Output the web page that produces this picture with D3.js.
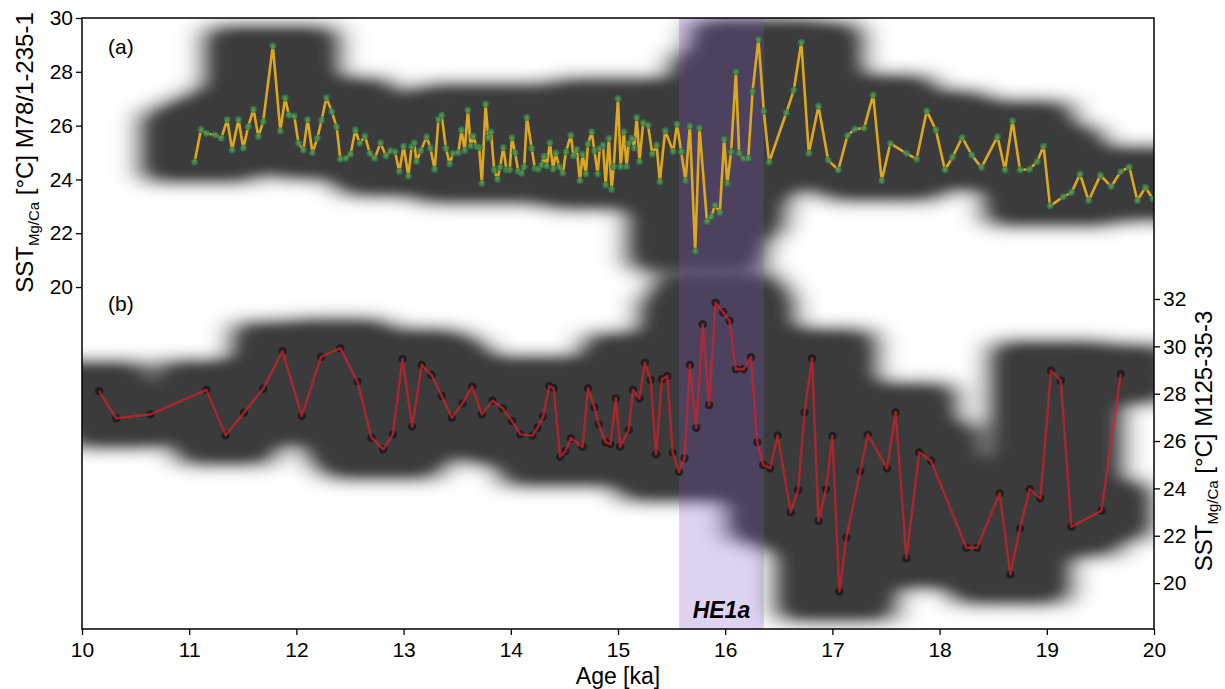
<!DOCTYPE html>
<html>
<head>
<meta charset="utf-8">
<script src="https://cdn.jsdelivr.net/npm/d3@7"></script>
<style>
  body { margin: 0; background: #fff; }
  text { font-family: "Liberation Sans", Arial, Helvetica, sans-serif; }
</style>
</head>
<body>
<div id="chart"></div>
<script>
var width = 1225, height = 689;

// (a) M78/1-235-1
var ageA = [11.05,11.11,11.16,11.24,11.30,11.355,11.40,11.46,11.505,11.55,11.60,11.645,11.69,11.78,11.85,11.895,11.93,11.98,12.02,12.065,
  12.105,12.15,12.195,12.235,12.28,12.33,12.375,12.41,12.46,12.505,12.55,12.59,12.64,12.685,12.73,12.785,12.835,12.88,12.92,12.96,
  13.00,13.045,13.075,13.10,13.12,13.16,13.215,13.25,13.29,13.325,13.355,13.395,13.43,13.46,13.51,13.54,13.57,13.60,13.625,13.65,
  13.68,13.705,13.73,13.765,13.79,13.815,13.845,13.875,13.90,13.93,13.96,13.99,14.01,14.04,14.07,14.10,14.125,14.15,14.195,14.225,
  14.255,14.29,14.31,14.335,14.365,14.395,14.42,14.45,14.485,14.515,14.56,14.585,14.615,14.645,14.67,14.70,14.72,14.755,14.78,14.81,
  14.83,14.86,14.885,14.915,14.94,14.96,15.00,15.025,15.055,15.08,15.10,15.13,15.15,15.175,15.20,15.235,15.28,15.32,15.36,15.39,
  15.44,15.515,15.55,15.59,15.63,15.67,15.72,15.76,15.83,15.87,15.905,15.95,15.99,16.02,16.055,16.10,16.13,16.17,16.215,16.255,
  16.31,16.36,16.41,16.57,16.64,16.71,16.78,16.87,16.96,17.055,17.14,17.21,17.295,17.38,17.46,17.54,17.69,17.785,17.88,17.965,
  18.05,18.12,18.21,18.30,18.39,18.54,18.61,18.68,18.75,18.84,18.91,18.97,19.03,19.155,19.23,19.31,19.39,19.50,19.60,19.69,
  19.77,19.845,19.92,19.99];
var sstA = [24.64,25.86,25.71,25.66,25.53,26.23,25.09,26.23,25.16,25.96,26.61,25.59,26.15,28.97,25.80,27.03,26.39,26.36,25.34,25.09,
  26.23,24.99,25.53,26.21,27.04,26.52,25.96,24.75,24.78,24.94,25.84,25.34,25.61,24.97,24.78,25.36,24.87,25.07,25.03,24.29,
  25.24,24.12,25.22,25.36,24.66,25.07,25.59,25.16,24.37,26.23,26.39,25.16,24.57,24.97,24.99,25.84,25.07,26.58,25.24,25.61,
  25.22,25.19,23.85,26.80,25.53,25.77,24.35,24.00,24.45,25.19,24.35,24.35,25.56,24.99,24.29,24.23,24.47,26.31,25.16,24.41,
  24.38,24.54,24.87,24.50,25.36,24.38,24.99,24.47,24.23,25.03,25.65,24.87,25.12,23.95,24.94,24.20,25.32,25.77,25.07,24.20,
  25.16,25.28,23.79,25.53,23.63,24.47,27.01,24.47,25.77,24.47,25.34,25.53,25.16,26.31,24.66,26.11,26.02,24.94,25.28,23.91,
  25.81,25.03,26.06,25.03,23.95,25.99,21.33,25.92,22.43,22.61,23.05,22.76,25.50,23.85,25.03,28.00,24.97,24.78,24.78,27.26,
  29.21,26.54,24.64,26.48,27.32,29.10,24.97,26.73,24.72,24.35,25.63,25.87,25.90,27.14,23.95,25.34,24.97,24.75,26.55,25.84,
  24.35,24.82,25.56,24.91,24.44,25.59,24.35,26.18,24.35,24.38,24.66,25.24,23.01,23.36,23.51,24.20,23.21,24.16,23.73,24.29,
  24.47,23.21,23.71,23.27];

// (b) M125-35-3
var ageB = [10.16,10.32,10.64,11.16,11.34,11.51,11.69,11.87,12.05,12.23,12.41,12.57,12.70,12.81,12.90,12.99,13.08,13.17,13.26,13.355,
  13.45,13.55,13.64,13.73,13.83,13.925,14.01,14.09,14.20,14.25,14.30,14.36,14.40,14.46,14.51,14.56,14.67,14.72,14.78,14.82,
  14.885,14.93,14.98,15.02,15.10,15.14,15.20,15.25,15.305,15.355,15.41,15.46,15.51,15.57,15.62,15.67,15.73,15.79,15.85,15.91,
  15.98,16.04,16.10,16.17,16.24,16.30,16.355,16.42,16.49,16.61,16.68,16.74,16.81,16.87,16.94,17.00,17.065,17.13,17.26,17.33,
  17.51,17.59,17.69,17.81,17.92,18.25,18.35,18.56,18.66,18.75,18.84,18.94,19.04,19.13,19.23,19.51,19.69];
var sstB = [28.11,26.96,27.13,28.16,26.24,27.20,28.21,29.80,27.06,29.56,29.92,28.51,26.14,25.65,26.28,29.47,26.61,29.21,28.79,27.91,
  26.99,27.59,28.30,27.13,27.70,27.38,26.85,26.28,26.23,26.56,27.03,28.32,28.23,25.34,25.58,26.12,25.76,28.23,27.42,26.71,
  25.95,25.87,27.80,25.76,26.47,28.16,27.80,29.31,28.58,25.44,28.61,28.75,25.51,24.70,25.27,29.21,26.56,30.93,27.52,31.84,
  31.44,31.08,29.03,29.03,29.54,25.95,24.99,24.85,26.23,22.99,23.93,27.21,29.49,22.62,23.96,26.21,19.64,21.92,24.73,26.27,
  24.85,27.21,21.05,25.52,25.17,21.49,21.49,23.79,20.37,22.31,23.97,23.58,28.97,28.55,22.38,23.06,28.83];

var xTicks = [10,11,12,13,14,15,16,17,18,19,20];
var leftTicks = [20,22,24,26,28,30];
var rightTicks = [20,22,24,26,28,30,32];
var he1a = [15.57, 16.36];

var pL = 82, pR = 1154, pT = 18, pB = 629;

var xScale = d3.scaleLinear().domain([10,20]).range([pL,pR]);
var yA = d3.scaleLinear().domain([7.29,30]).range([pB,pT]);
var yB = d3.scaleLinear().domain([18.06,43.87]).range([pB,pT]);

var svg = d3.select("#chart").append("svg")
  .attr("width", width)
  .attr("height", height);

var defs = svg.append("defs");
defs.append("clipPath").attr("id","plotclip")
  .append("rect")
  .attr("x", pL).attr("y", pT)
  .attr("width", pR-pL).attr("height", pB-pT);

// soft envelope: union of blocks, blurred, alpha scaled down
var filt = defs.append("filter").attr("id","soft")
  .attr("x","-10%").attr("y","-10%").attr("width","120%").attr("height","120%");
filt.append("feGaussianBlur").attr("in","SourceGraphic").attr("stdDeviation","15 9").attr("result","b");
filt.append("feComponentTransfer").attr("in","b")
  .append("feFuncA").attr("type","table")
  .attr("tableValues","0 0.1 0.2 0.3 0.4 0.5 0.6 0.68 0.74 0.77 0.77");

var plot = svg.append("g").attr("clip-path","url(#plotclip)");
var env = plot.append("g").attr("filter","url(#soft)");

// each sample gets a block covering the local spread
function drawEnvelope(ages, vals, yScale, win, hw, pad) {
  for (var i = 0; i < ages.length; i++) {
    var lo = vals[i], hi = vals[i];
    for (var j = 0; j < ages.length; j++) {
      if (Math.abs(ages[j]-ages[i]) <= win) {
        lo = Math.min(lo, vals[j]);
        hi = Math.max(hi, vals[j]);
      }
    }
    var x0 = xScale(ages[i] - hw);
    var x1 = xScale(ages[i] + hw);
    env.append("rect")
      .attr("x", x0)
      .attr("y", yScale(hi + pad))
      .attr("width", x1 - x0)
      .attr("height", yScale(lo - pad) - yScale(hi + pad))
      .attr("fill", "#000");
  }
}
drawEnvelope(ageA, sstA, yA, 0.15, 0.47, 0.65);
drawEnvelope(ageB, sstB, yB, 0.15, 0.44, 1.15);

// HE1a band
plot.append("rect")
  .attr("x", xScale(he1a[0]))
  .attr("y", pT)
  .attr("width", xScale(he1a[1])-xScale(he1a[0]))
  .attr("height", pB-pT)
  .attr("fill", "#7e57c2")
  .attr("opacity", 0.26);

// (a) line and markers
var lineA = d3.line().x(function(d,i){ return xScale(ageA[i]); }).y(function(d){ return yA(d); });
plot.append("path")
  .attr("d", lineA(sstA))
  .attr("fill","none")
  .attr("stroke","#dca822")
  .attr("stroke-width",2.6)
  .attr("stroke-linejoin","round");
plot.selectAll(".ptA").data(sstA).enter().append("circle")
  .attr("cx", function(d,i){ return xScale(ageA[i]); })
  .attr("cy", function(d){ return yA(d); })
  .attr("r", 3.3)
  .attr("fill","#3f8a55")
  .attr("fill-opacity",0.8)
  .attr("stroke","#2d5e3e")
  .attr("stroke-width",0.6);

// (b) markers under line
plot.selectAll(".ptB").data(sstB).enter().append("circle")
  .attr("cx", function(d,i){ return xScale(ageB[i]); })
  .attr("cy", function(d){ return yB(d); })
  .attr("r", 4.2)
  .attr("fill","#1a1a1a")
  .attr("fill-opacity",0.85);
var lineB = d3.line().x(function(d,i){ return xScale(ageB[i]); }).y(function(d){ return yB(d); });
plot.append("path")
  .attr("d", lineB(sstB))
  .attr("fill","none")
  .attr("stroke","#d0222b")
  .attr("stroke-opacity",0.75)
  .attr("stroke-width",2.4)
  .attr("stroke-linejoin","round");

// frame
svg.append("rect")
  .attr("x", pL).attr("y", pT)
  .attr("width", pR-pL).attr("height", pB-pT)
  .attr("fill","none")
  .attr("stroke","#000")
  .attr("stroke-width",1.5);

// axes
var xAxis = svg.append("g")
  .attr("transform","translate(0," + pB + ")")
  .call(d3.axisBottom(xScale).tickValues(xTicks).tickSize(6).tickSizeOuter(0).tickFormat(d3.format("d")));
var lAxis = svg.append("g")
  .attr("transform","translate(" + pL + ",0)")
  .call(d3.axisLeft(yA).tickValues(leftTicks).tickSize(6).tickSizeOuter(0));
var rAxis = svg.append("g")
  .attr("transform","translate(" + pR + ",0)")
  .call(d3.axisRight(yB).tickValues(rightTicks).tickSize(6).tickSizeOuter(0));

[xAxis, lAxis, rAxis].forEach(function(a) {
  a.select(".domain").remove();
  a.selectAll(".tick line").attr("stroke","#000").attr("stroke-width",1.3);
  a.selectAll(".tick text")
    .style("font-family",'"Liberation Sans", Arial, sans-serif')
    .style("font-size","21px")
    .attr("fill","#000");
});
xAxis.selectAll(".tick text").attr("dy","0.9em");

// panel letters
svg.append("text").attr("x",108).attr("y",54).text("(a)").style("font-size","21px");
svg.append("text").attr("x",108).attr("y",311).text("(b)").style("font-size","21px");

svg.append("text")
  .attr("x", (xScale(he1a[0])+xScale(he1a[1]))/2)
  .attr("y", 618)
  .attr("text-anchor","middle")
  .style("font-size","23px")
  .style("font-weight","bold")
  .style("font-style","italic")
  .text("HE1a");

// axis titles
svg.append("text")
  .attr("x", (pL+pR)/2)
  .attr("y", 684)
  .attr("text-anchor","middle")
  .style("font-size","23px")
  .text("Age [ka]");

function yTitle(x, yc, name) {
  var t = svg.append("text")
    .attr("transform","translate(" + x + "," + yc + ") rotate(-90)")
    .attr("text-anchor","middle")
    .style("font-size","24px");
  t.append("tspan").text("SST");
  t.append("tspan").attr("dy",6).style("font-size","15px").text("Mg/Ca");
  t.append("tspan").attr("dy",-6).text(" [°C] " + name);
}
yTitle(33, (yA(20)+yA(30))/2, "M78/1-235-1");
yTitle(1212, (yB(20)+yB(32))/2, "M125-35-3");
</script>
</body>
</html>
